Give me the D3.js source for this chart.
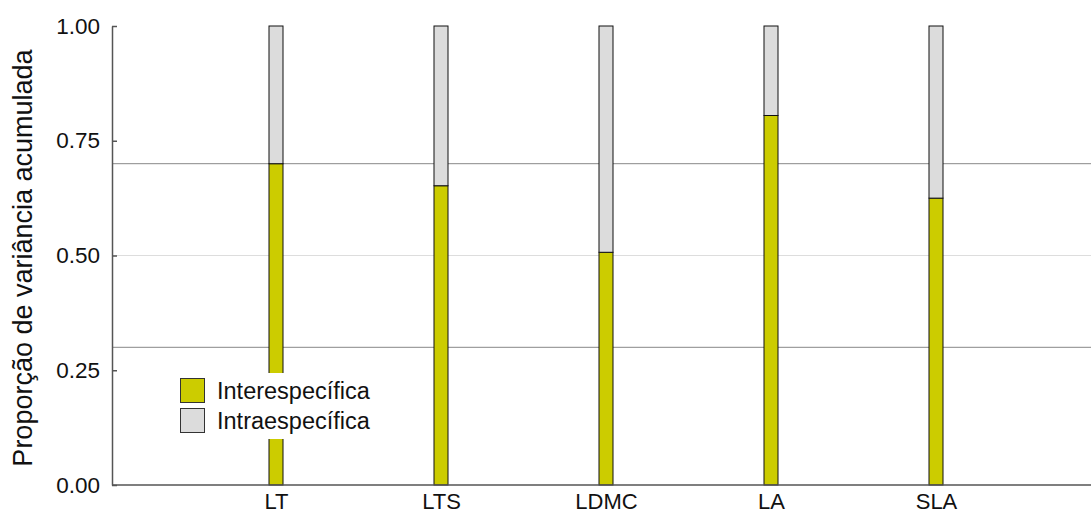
<!DOCTYPE html>
<html>
<head>
<meta charset="utf-8">
<script src="https://cdn.jsdelivr.net/npm/d3@7"></script>
<style>
  body { margin: 0; background: #fff; }
  text { font-family: "Liberation Sans", Arial, sans-serif; fill: #111; }
</style>
</head>
<body>
<div id="chart"></div>
<script>
// Chart data
var traits = ["LT", "LTS", "LDMC", "LA", "SLA"];
var inter = [0.70, 0.652, 0.507, 0.805, 0.625];
var intra = inter.map(function (v) { return 1 - v; });
var yTicks = [0, 0.25, 0.5, 0.75, 1];
var refLines = [0.3, 0.7];
var legendLabels = ["Interespecífica", "Intraespecífica"];
var colors = ["#cccc00", "#dcdcdc"];

var svgWidth = 1091;
var svgHeight = 513;
var margin = { top: 26, right: 0, bottom: 28, left: 112 };

var svg = d3.select("#chart")
  .append("svg")
  .attr("width", svgWidth)
  .attr("height", svgHeight);

var xScale = d3.scalePoint()
  .domain(traits)
  .range([111, 1101])
  .padding(1);

var yScale = d3.scaleLinear()
  .domain([0, 1])
  .range([485, 26]);

// light grid at 0.5
svg.append("line")
  .attr("x1", margin.left).attr("x2", svgWidth)
  .attr("y1", yScale(0.5)).attr("y2", yScale(0.5))
  .attr("stroke", "#dddddd").attr("stroke-width", 1);

// reference lines
svg.selectAll(".ref")
  .data(refLines)
  .enter()
  .append("line")
  .attr("class", "ref")
  .attr("x1", margin.left).attr("x2", svgWidth)
  .attr("y1", d => yScale(d)).attr("y2", d => yScale(d))
  .attr("stroke", "#888888").attr("stroke-width", 1);

// stacked bars
var stackData = traits.map(function (t, i) {
  return { trait: t, inter: inter[i], intra: intra[i] };
});
var series = d3.stack().keys(["inter", "intra"])(stackData);
var barW = 14;

svg.selectAll(".series")
  .data(series)
  .enter()
  .append("g")
  .attr("fill", (d, i) => colors[i])
  .selectAll("rect")
  .data(d => d)
  .enter()
  .append("rect")
  .attr("x", d => xScale(d.data.trait) - barW / 2)
  .attr("y", d => yScale(d[1]))
  .attr("width", barW)
  .attr("height", d => yScale(d[0]) - yScale(d[1]))
  .attr("stroke", "#111")
  .attr("stroke-width", 1);

// legend (white box covering bars)
var legend = svg.append("g").attr("transform", "translate(170, 373)");
legend.append("rect")
  .attr("width", 220).attr("height", 66)
  .attr("fill", "#fff");
legendLabels.forEach(function (lab, i) {
  legend.append("rect")
    .attr("x", 10.5).attr("y", 5.5 + i * 30)
    .attr("width", 24).attr("height", 24)
    .attr("fill", colors[i])
    .attr("stroke", "#333").attr("stroke-width", 1);
  legend.append("text")
    .attr("x", 47).attr("y", 26 + i * 30)
    .style("font-size", "23.5px")
    .text(lab);
});

// axes
var leftAxis = d3.axisLeft(yScale)
  .tickValues(yTicks)
  .tickFormat(d3.format(".2f"))
  .tickSizeInner(-5)
  .tickSizeOuter(0)
  .tickPadding(12);

var yAxisG = svg.append("g")
  .attr("transform", `translate(${margin.left}, 0)`)
  .call(leftAxis);
yAxisG.select(".domain").attr("stroke", "#555").attr("stroke-width", 1.5);
yAxisG.selectAll(".tick line").attr("stroke", "#555").attr("stroke-width", 1.5);
yAxisG.selectAll(".tick text")
  .style("font-size", "22.5px")
  .style("font-family", "'Liberation Sans', Arial, sans-serif")
  .attr("fill", "#111");

var bottomAxis = d3.axisBottom(xScale).tickSize(0).tickPadding(8);
var xAxisG = svg.append("g")
  .attr("transform", `translate(0, ${yScale(0)})`)
  .call(bottomAxis);
xAxisG.select(".domain")
  .attr("d", `M${margin.left},0H${svgWidth}`)
  .attr("stroke", "#555").attr("stroke-width", 1.5);
xAxisG.selectAll(".tick text")
  .style("font-size", "22px")
  .style("font-family", "'Liberation Sans', Arial, sans-serif")
  .attr("fill", "#111");

// y axis label
svg.append("text")
  .attr("transform", "rotate(-90)")
  .attr("x", -258)
  .attr("y", 32)
  .style("text-anchor", "middle")
  .style("font-size", "27px")
  .text("Proporção de variância acumulada");
</script>
</body>
</html>
